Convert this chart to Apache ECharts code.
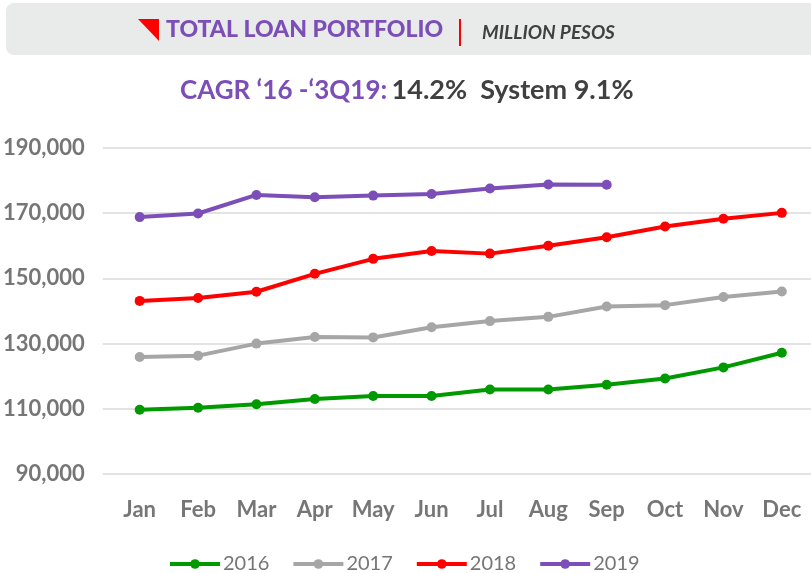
<!DOCTYPE html>
<html>
<head>
<meta charset="utf-8">
<title>Total Loan Portfolio</title>
<script src="https://cdn.jsdelivr.net/npm/echarts@6/dist/echarts.min.js"></script>
<style>
  html, body { margin: 0; padding: 0; background: #fff; }
  #chart { width: 811px; height: 573px; }
</style>
</head>
<body>
<div id="chart"></div>
<script>
// months on the x axis
const months = ["Jan", "Feb", "Mar", "Apr", "May", "Jun", "Jul", "Aug", "Sep", "Oct", "Nov", "Dec"];
// million pesos
const y2016 = [109700, 110300, 111400, 113000, 113900, 113900, 115900, 115900, 117400, 119300, 122700, 127200];
const y2017 = [125900, 126300, 130000, 132000, 131900, 135000, 136900, 138200, 141400, 141800, 144300, 146000];
const y2018 = [143100, 144000, 145900, 151400, 156000, 158400, 157600, 160000, 162600, 165900, 168300, 170100];
const y2019 = [168800, 169900, 175600, 174900, 175400, 175900, 177600, 178800, 178700];
const seriesNames = ["2016", "2017", "2018", "2019"];
const seriesColors = ["#009a00", "#a6a6a6", "#ff0000", "#7b4fb7"];

const purple = "#7b4fb7";
const textGray = "#767676";
const font = "Lato";

const myChart = echarts.init(document.getElementById("chart"));

function lineSeries(name, data, color) {
  return {
    name: name,
    type: "line",
    xAxisIndex: 0,
    yAxisIndex: 1,
    data: data,
    symbol: "circle",
    symbolSize: 10,
    color: color,
    lineStyle: { width: 4, color: color },
    itemStyle: { color: color },
    emphasis: { disabled: true },
    animation: false,
  };
}

const option = {
  backgroundColor: "#fff",
  textStyle: { fontFamily: font },
  title: {
    text: "{p|CAGR \u201816 -\u20183Q19:} {g|14.2%  System 9.1%}",
    left: 175,
    top: 72,
    textStyle: {
      rich: {
        p: { color: purple, fontSize: 26, fontWeight: "bold", fontFamily: font },
        g: { color: "#404040", fontSize: 27, fontWeight: "bold", fontFamily: font },
      },
    },
  },
  graphic: [
    {
      type: "rect",
      shape: { x: 6, y: 3, width: 830, height: 52, r: 8 },
      style: { fill: "#e9eaea" },
      silent: true,
    },
    {
      type: "polygon",
      shape: { points: [[138, 19], [159, 19], [159, 41]] },
      style: { fill: "#ff0000" },
      silent: true,
    },
    {
      type: "text",
      x: 166, y: 30,
      style: {
        text: "TOTAL LOAN PORTFOLIO",
        fill: purple,
        font: "900 23px Lato",
        verticalAlign: "middle",
      },
      silent: true,
    },
    {
      type: "rect",
      shape: { x: 459, y: 19, width: 2, height: 27 },
      style: { fill: "#ff0000" },
      silent: true,
    },
    {
      type: "text",
      x: 482, y: 33,
      style: {
        text: "MILLION PESOS",
        fill: "#404040",
        font: "italic bold 19px Lato",
        verticalAlign: "middle",
      },
      silent: true,
    },
  ],
  legend: {
    top: 554,
    left: 168,
    padding: 0,
    itemWidth: 50,
    itemHeight: 12,
    itemGap: 22,
    lineStyle: { width: 4 },
    textStyle: { color: textGray, fontSize: 20, fontFamily: font, padding: [0, 0, 0, -2] },
    data: seriesNames,
  },
  grid: [
    // grid 0: y axis labels and gridlines, wide like the original plot area
    { left: 72, right: 0, top: 148, bottom: 99 },
    // grid 1: the lines
    { left: 110.5, right: -8.5, top: 148, bottom: 99 },
  ],
  xAxis: [
    {
      type: "category",
      gridIndex: 1,
      data: months,
      boundaryGap: true,
      axisLine: { show: false },
      axisTick: { show: false },
      axisLabel: { color: textGray, fontSize: 22, fontWeight: "bold", margin: 25 },
    },
    {
      type: "value",
      gridIndex: 0,
      show: false,
    },
  ],
  yAxis: [
    {
      type: "value",
      gridIndex: 0,
      min: 90000,
      max: 190000,
      interval: 20000,
      axisLine: { show: false },
      axisTick: { show: false },
      splitLine: { lineStyle: { color: "#e3e3e3", width: 2 } },
      axisLabel: {
        color: textGray,
        fontSize: 22,
        fontWeight: "bold",
        margin: 18,
        formatter: function (v) {
          return v.toLocaleString("en-US");
        },
      },
    },
    {
      type: "value",
      gridIndex: 1,
      min: 90000,
      max: 190000,
      show: false,
    },
  ],
  series: [
    lineSeries(seriesNames[0], y2016, seriesColors[0]),
    lineSeries(seriesNames[1], y2017, seriesColors[1]),
    lineSeries(seriesNames[2], y2018, seriesColors[2]),
    lineSeries(seriesNames[3], y2019, seriesColors[3]),
  ],
};

myChart.setOption(option);
</script>
</body>
</html>
